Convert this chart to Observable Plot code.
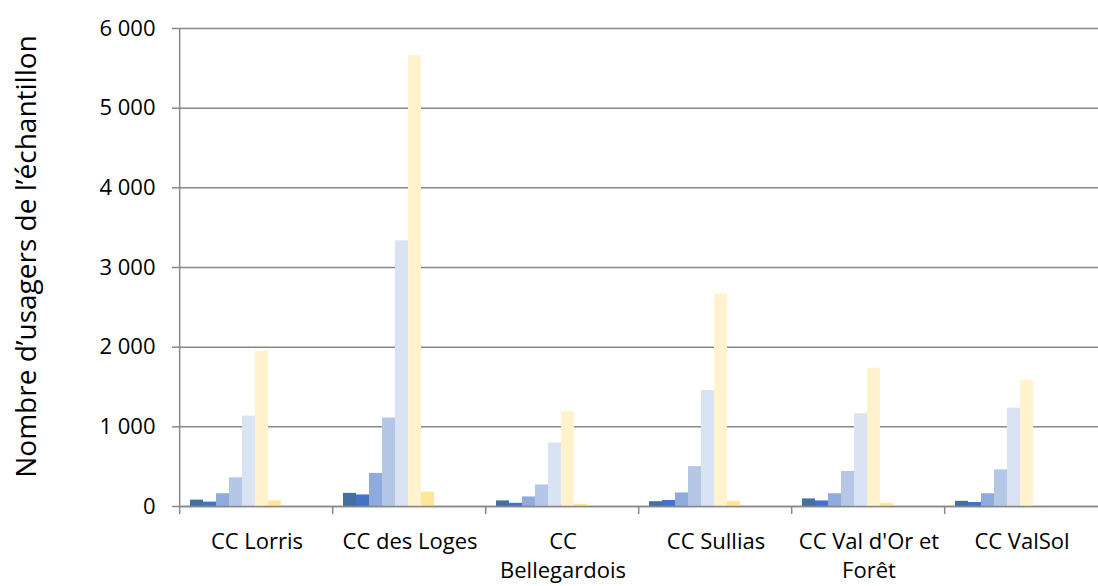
<!DOCTYPE html>
<html><head><meta charset="utf-8">
<script src="https://cdn.jsdelivr.net/npm/d3@7"></script>
<script src="https://cdn.jsdelivr.net/npm/@observablehq/plot@0.6"></script>
<style>html,body{margin:0;padding:0;overflow:hidden;background:#fff}</style>
</head><body><div id="chart"></div>
<script>
const groups = ["CC Lorris", "CC des Loges", "CC Bellegardois", "CC Sullias", "CC Val d'Or et Forêt", "CC ValSol"];
const groupLabels = ["CC Lorris", "CC des Loges", "CC\nBellegardois", "CC Sullias", "CC Val d'Or et\nForêt", "CC ValSol"];
const seriesNames = ["Série 1", "Série 2", "Série 3", "Série 4", "Série 5", "Série 6", "Série 7", "Série 8", "Série 9", "Série 10"];
const serie1 = [80, 165, 70, 60, 95, 65];
const serie2 = [55, 145, 40, 75, 70, 50];
const serie3 = [160, 415, 120, 170, 160, 160];
const serie4 = [360, 1110, 270, 500, 440, 460];
const serie5 = [1135, 3335, 795, 1455, 1165, 1235];
const serie6 = [1950, 5660, 1190, 2670, 1735, 1580];
const serie7 = [70, 180, 25, 65, 40, 10];
const serie8 = [0, 0, 0, 0, 0, 0];
const serie9 = [0, 0, 0, 0, 0, 0];
const serie10 = [0, 0, 0, 0, 0, 0];
const seriesColors = ["#43709F", "#4472C4", "#8FAADC", "#B4C7E7", "#DAE3F3", "#FFF2CC", "#FFE699", "#A5A5A5", "#70AD47", "#ED7D31"];
const yTicks = [0, 1000, 2000, 3000, 4000, 5000, 6000];
const yTitle = "Nombre d’usagers de l’échantillon";

const allSeries = [serie1, serie2, serie3, serie4, serie5, serie6, serie7, serie8, serie9, serie10];
const data = groups.flatMap((g, i) => seriesNames.map((s, j) => ({group: g, series: s, value: allSeries[j][i]})));

const W = 1098, H = 586, mL = 179, xEnd = 1107, mT = 28, mB = 80;
const bw = (xEnd - mL) / groups.length;
const grey = "#888888";
const fmt = d3.formatLocale({decimal: ",", thousands: " ", grouping: [3], currency: ["", ""]}).format(",");

const plot = Plot.plot({
  width: W, height: H,
  marginLeft: mL, marginRight: W - xEnd, marginTop: mT, marginBottom: mB,
  style: {fontFamily: "'Open Sans', sans-serif", fontSize: "22px", color: "#000", background: "#fff", overflow: "hidden"},
  fx: {domain: groups, padding: 0, label: null, axis: null},
  x: {domain: seriesNames, paddingInner: 0, paddingOuter: 0.8, axis: null},
  y: {domain: [0, 6000], label: null, axis: null},
  color: {domain: seriesNames, range: seriesColors},
  facet: {marginLeft: 0, marginRight: 0},
  marks: [
    Plot.gridY(yTicks, {stroke: grey, strokeOpacity: 1, strokeWidth: 1.5}),
    Plot.barY(data, {fx: "group", x: "series", y: "value", fill: "series", dx: -2}),
    Plot.ruleY([0], {stroke: grey, strokeWidth: 1.5}),
    Plot.ruleX(groups, {fx: d => d, x: null, y1: 0, y2: 0, insetBottom: -8, dx: -bw / 2, stroke: grey, strokeWidth: 1.5}),
    Plot.ruleX([groups[0]], {fx: d => d, x: null, y1: 0, y2: 6000, dx: -bw / 2, stroke: grey, strokeWidth: 1.5}),
    Plot.axisY(yTicks, {tickSize: 8, tickPadding: 17, tickFormat: fmt, stroke: grey, strokeWidth: 1.5, label: null}),
    Plot.text([yTitle], {fx: () => groups[0], text: d => d, frameAnchor: "left", rotate: -90, textAnchor: "middle", lineAnchor: "middle", dx: -153, dy: -11, fontSize: 28, fill: "#000"}),
    Plot.axisFx({anchor: "bottom", tickSize: 0, tickPadding: 22, lineHeight: 1.32, tickFormat: d => groupLabels[groups.indexOf(d)], label: null})
  ]
});
document.getElementById("chart").append(plot);
</script>
</body></html>
